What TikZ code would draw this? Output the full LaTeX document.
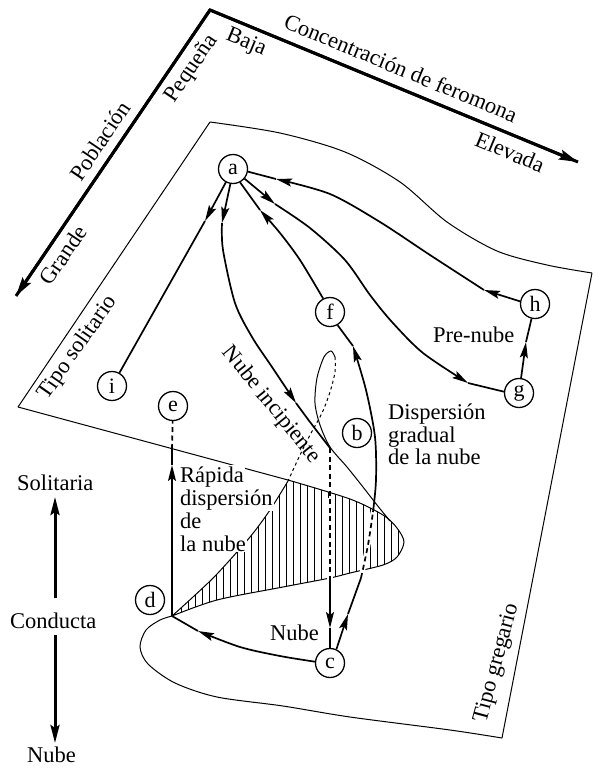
\documentclass[tikz,border=0pt]{standalone}
\usepackage{fontspec}
\setmainfont{Liberation Serif}
\usetikzlibrary{arrows.meta}
\begin{document}
\begin{tikzpicture}[x=1pt,y=-1pt,
  lbl/.style={font=\fontsize{22.5}{23}\selectfont, inner sep=0pt},
  nd/.style={circle, draw, line width=1.3pt, fill=white, minimum size=29pt, inner sep=0pt, font=\fontsize{22}{22}\selectfont},
  traj/.style={line width=1.7pt},
  tarr/.style={line width=1.7pt, -{Stealth[length=16pt,width=8pt,inset=3pt]}},
  surf/.style={line width=1pt},
  axisarrow/.style={line width=3pt, -{Stealth[length=19pt,width=10pt,inset=3pt]}},
  dsh/.style={dash pattern=on 5pt off 3.5pt}
]
\useasboundingbox (0,0) rectangle (593,769);

% ---------------- axes ----------------
\coordinate (corner) at (210,10);
\coordinate (topend) at (578,162);
\coordinate (leftend) at (16,296);
\draw[line width=3pt, line join=miter] (topend) -- (corner) -- (leftend);
\draw[axisarrow] (corner) -- (topend);
\draw[axisarrow] (corner) -- (leftend);

\node[lbl, rotate=-22.5] (tconc) at (401,68) {Concentración de feromona};
\node[lbl, rotate=-22.5] (tbaja) at (246,43) {Baja};
\node[lbl, rotate=-22.5] (telev) at (510,152) {Elevada};
\node[lbl, rotate=56] (tpob) at (100,141) {Población};
\node[lbl, rotate=56] (tpeq) at (192,69) {Pequeña};
\node[lbl, rotate=56] (tgra) at (63,255) {Grande};

% ---------------- surface ----------------
\draw[surf] (18,407) -- (210,122);
\draw[surf] plot[smooth] coordinates {(210,122) (280,133) (345,152) (400,182) (447,222) (497,251) (547,265) (592,273)};
\draw[surf] (592,273) -- (502,738);
\draw[surf] plot[smooth] coordinates {(502,738) (450,730) (350,717) (283,706) (217,697) (175,683) (148,664) (140,647) (146,630) (160,620) (172,616)};
\draw[surf] (18,407) -- (288,480);

% hatched region
\begin{scope}
\clip plot[smooth] coordinates {(172,616) (193,597) (217,574) (250,537) (270,510) (288,481)}
  -- plot[smooth] coordinates {(288,480) (350,499) (383,515) (397,528) (404,542) (397,557) (383,565) (350,573) (330,578) (283,587) (217,600) (172,616)} -- cycle;
\foreach \x in {174,181,...,408} \draw[line width=0.8pt] (\x,470) -- (\x,625);
\end{scope}
\draw[surf] plot[smooth] coordinates {(172,616) (193,597) (217,574) (250,537) (270,510) (288,481)};
\draw[surf] plot[smooth] coordinates {(288,480) (350,499) (383,515) (397,528) (404,542) (397,557) (383,565) (350,573) (330,578) (283,587) (217,600) (172,616)};

% fold lines near the cusp
\draw[surf] plot[smooth] coordinates {(335,357) (331,351) (324,357) (317,378) (315,403) (320,425) (330,447) (347,467) (363,487) (377,505) (390,521)};
\draw[surf, dashed] plot[smooth] coordinates {(335,357) (335,372) (330,392) (322,413) (310,435) (300,455) (288,481)};

\node[lbl, rotate=55] (tsol) at (78,348) {Tipo solitario};
\node[lbl, rotate=75] (tgreg) at (497,663) {Tipo gregario};

% ---------------- nodes ----------------
\node[nd] (a) at (233,169) {a};
\node[nd] (b) at (357,433) {b};
\node[nd] (c) at (330,663) {c};
\node[nd] (d) at (150,600) {d};
\node[nd] (e) at (173,406) {e};
\node[nd] (f) at (330,312) {f};
\node[nd] (g) at (519,393) {g};
\node[nd] (h) at (535,304) {h};
\node[nd] (i) at (112,386) {i};

\coordinate (bdrop) at (330,448);
\coordinate (hbot) at (330,580);
\coordinate (cusp) at (172,616);
\coordinate (edgeE) at (172,449);
\coordinate (cf1) at (361,578);
\coordinate (cf2) at (373,512);
% arrow tip points
\coordinate (ai) at (205,221);
\coordinate (ab1) at (222,223);
\coordinate (ab2) at (296,403);
\coordinate (dc) at (330,628);
\coordinate (cd) at (198,631);
\coordinate (de) at (172,465);
\coordinate (cf0) at (348,614);
\coordinate (cf3) at (353,346);
\coordinate (fa) at (260,210);
\coordinate (ag1) at (275,204);
\coordinate (ag2) at (468,383);
\coordinate (gh) at (526,342);
\coordinate (ha1) at (484,290);
\coordinate (ha2) at (276,179);

% ---------------- trajectories ----------------
% a -> i
\draw[tarr] (a) -- (ai);
\draw[traj] (ai) -- (i);
% a -> b (nube incipiente)
\draw[tarr] (a.260) -- (ab1);
\draw[tarr] plot[smooth] coordinates {(ab1) (223,250) (235,303) (252,337) (272,367) (ab2)};
\draw[traj] plot[smooth] coordinates {(ab2) (310,422) (bdrop)};
% drop to c
\draw[white, line width=6pt] (330,498) -- (hbot);
\draw[traj, dsh] (bdrop) -- (hbot);
\draw[tarr] (hbot) -- (dc);
\draw[traj] (dc) -- (c);
% c -> d
\draw[tarr] plot[smooth] coordinates {(c.175) (280,656) (240,647) (cd)};
\draw[traj] (cd) -- (cusp);
% d -> e
\draw[tarr] (cusp) -- (de);
\draw[traj] (de) -- (edgeE);
\draw[traj, dsh] (edgeE) -- (e);
% c -> f
\draw[tarr] (c.65) -- (cf0);
\draw[traj] (cf0) -- (cf1);
\draw[white, line width=5pt] plot[smooth] coordinates {(cf1) (368,545) (cf2)};
\draw[traj, dsh] plot[smooth] coordinates {(cf1) (368,545) (cf2)};
\draw[tarr] plot[smooth] coordinates {(cf2) (376,480) (375,437) (366,390) (cf3)};
\draw[traj] (cf3) -- (f.300);
% f -> a
\draw[tarr] plot[smooth] coordinates {(f.117) (300,260) (280,233) (fa)};
\draw[traj] (fa) -- (a.-62);
% a -> g
\draw[tarr] (a.-40) -- (ag1);
\draw[tarr] plot[smooth] coordinates {(ag1) (310,228) (345,260) (370,295) (392,322) (423,353) (ag2)};
\draw[traj] (ag2) -- (g.175);
% g -> h
\draw[tarr] (g) -- (gh);
\draw[traj] (gh) -- (h);
% h -> a
\draw[tarr] (h.170) -- (ha1);
\draw[tarr] plot[smooth] coordinates {(ha1) (430,255) (380,222) (330,194) (ha2)};
\draw[traj] (ha2) -- (a.-10);

% ---------------- labels ----------------
\node[lbl, rotate=-51] (tinc) at (271,405) {Nube incipiente};
\node[lbl, anchor=base west] (td1) at (388,419) {Dispersión};
\node[lbl, anchor=base west] (td2) at (388,442) {gradual};
\node[lbl, anchor=base west] (td3) at (388,464) {de la nube};
\node[lbl, anchor=base west] (tpre) at (433,342) {Pre-nube};
\node[lbl, anchor=base west, fill=white, inner sep=1pt] (tr1) at (179,482) {Rápida};
\node[lbl, anchor=base west, fill=white, inner sep=1pt] (tr2) at (179,505) {dispersión};
\node[lbl, anchor=base west, fill=white, inner sep=1pt] (tr3) at (179,528) {de};
\node[lbl, anchor=base west, fill=white, inner sep=1pt] (tr4) at (179,551) {la nube};
\node[lbl, anchor=base west] (tnc) at (270,640) {Nube};

% behaviour axis
\node[lbl, anchor=base west] (tsolit) at (17,490) {Solitaria};
\node[lbl, anchor=base west] (tcond) at (10,628) {Conducta};
\node[lbl, anchor=base west] (tnube) at (27,762) {Nube};
\coordinate (cu) at (55,598);
\coordinate (cl) at (55,635);
\coordinate (cut) at (55,497);
\coordinate (clt) at (55,743);
\draw[line width=3pt, -{Stealth[length=18pt,width=9pt,inset=3pt]}] (cu) -- (cut);
\draw[line width=3pt, -{Stealth[length=18pt,width=9pt,inset=3pt]}] (cl) -- (clt);
\end{tikzpicture}
\end{document}
